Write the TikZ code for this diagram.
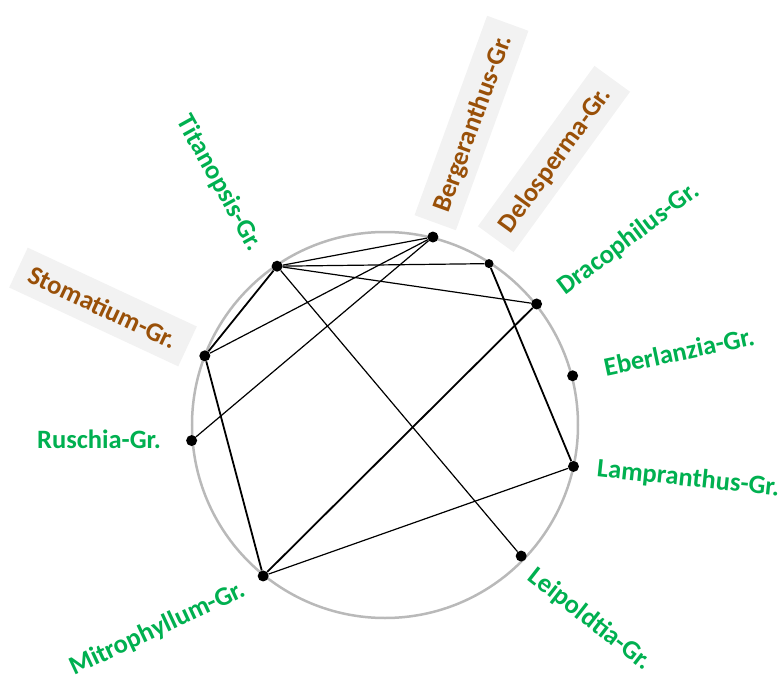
\documentclass[tikz,border=0pt]{standalone}
\usepackage{fontspec}
\setmainfont{Carlito}
\definecolor{grpgreen}{RGB}{0,176,80}
\definecolor{grpbrown}{RGB}{153,80,8}
\definecolor{boxgray}{RGB}{242,242,242}
\definecolor{ringgray}{RGB}{185,185,185}

\begin{document}
\begin{tikzpicture}[x=1pt, y=1pt,
  grp/.style={font=\bfseries\fontsize{26.5}{30}\selectfont, text=grpgreen, text depth=0pt, inner sep=0pt},
  hgrp/.style={grp, text=grpbrown, fill=boxgray, inner xsep=13pt, minimum height=44pt},
  dot/.style={circle, fill=black, inner sep=0pt, minimum size=11pt},
  link/.style={line width=1.2pt},
  strong/.style={line width=1.8pt}
]
\useasboundingbox (-385,-256) rectangle (397,425);

\node[hgrp, rotate=70] (lberg) at (86.5,302) {Bergeranthus-Gr.};
\node[hgrp, rotate=54] (ldelo) at (169,266) {Delosperma-Gr.};
\node[hgrp, rotate=-25] (lstom) at (-282,118) {Stomatium-Gr.};
\node[grp, rotate=-61] (ltita) at (-164,242.5) {Titanopsis-Gr.};
\node[grp, rotate=37] (ldrac) at (242.5,187.5) {Dracophilus-Gr.};
\node[grp, rotate=12] (lebe) at (294,73.5) {Eberlanzia-Gr.};
\node[grp, rotate=-6] (llamp) at (303.5,-52) {Lampranthus-Gr.};
\node[grp, rotate=-38] (lleip) at (206,-193) {Leipoldtia-Gr.};
\node[grp, rotate=25] (lmitr) at (-228,-202) {Mitrophyllum-Gr.};
\node[grp] (lrusc) at (-286,-14) {Ruschia-Gr.};

\node[draw=ringgray, line width=2.5pt, circle, inner sep=0pt, minimum size=386pt] (ring) at (0,0) {};

\node[dot] (berg) at (75.7:194) {};
\node[dot, minimum size=9pt] (delo) at (57.2:192) {};
\node[dot] (drac) at (38.6:194) {};
\node[dot] (ebe) at (14.7:194) {};
\node[dot] (lamp) at (-12.4:193) {};
\node[dot] (leip) at (-43.9:189) {};
\node[dot] (mitr) at (-128.9:194) {};
\node[dot] (rusc) at (184.6:194) {};
\node[dot] (stom) at (159:193) {};
\node[dot] (tita) at (124.2:192) {};

\draw[link] (berg) -- (tita);
\draw[link] (berg) -- (stom);
\draw[link] (berg) -- (rusc);
\draw[link] (tita) -- (delo);
\draw[link] (tita) -- (drac);
\draw[strong] (tita) -- (stom);
\draw[link] (tita) -- (leip);
\draw[strong] (delo) -- (lamp);
\draw[strong] (drac) -- (mitr);
\draw[strong] (stom) -- (mitr);
\draw[link] (mitr) -- (lamp);
\end{tikzpicture}
\end{document}
